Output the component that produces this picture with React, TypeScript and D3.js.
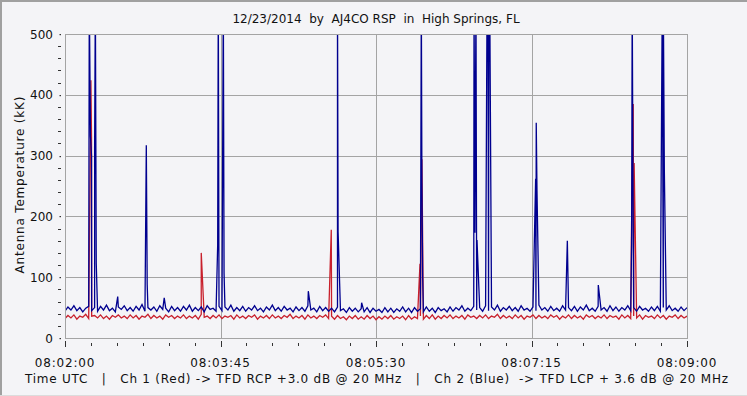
import React, { useEffect, useRef } from 'react';
import * as d3 from 'd3';

// seconds after 08:02:00 UTC, baseline sampled every 2 s
const sampleStep = 2
const blueBase = [
  44,51,46,53,45,50,43,49,52,45, 50,44,52,46,54,45,49,43,51,47,
  53,45,50,44,52,46,55,44,50,46, 51,44,53,47,49,43,52,45,50,44,
  52,46,54,44,50,45,51,43,53,47, 49,44,52,45,51,46,54,44,50,45,
  52,44,50,46,53,45,49,43,51,46, 54,45,50,44,52,46,49,43,51,45,
  50,44,53,46,49,43,52,45,50,44, 49,43,51,45,48,42,50,44,49,43,
  48,43,50,42,49,44,47,42,50,43, 49,42,48,44,51,43,49,42,50,44,
  48,43,51,44,49,42,50,45,48,43, 51,44,50,46,53,44,49,45,52,46,
  50,44,53,45,51,46,54,44,50,46, 52,45,50,44,53,46,49,44,51,45,
  54,46,50,44,52,45,49,44,53,46, 50,45,52,44,51,46,54,45,49,44,
  52,46,50,44,53,45,51,44,50,46, 53,45,50,44,52,46,49,44,51,45,
  52,44,50,46,53,45,49,44,51,45, 50
]
const redBase = [
  32,37,33,38,31,36,34,39,32,36, 37,33,38,32,36,31,37,34,38,33,
  36,32,38,33,37,31,36,34,39,32, 37,33,36,31,38,34,37,32,36,33,
  38,32,36,33,37,31,39,34,36,32, 37,33,38,32,36,34,37,31,38,33,
  36,32,37,34,38,31,36,33,37,32, 38,33,36,32,37,34,39,32,36,33,
  37,31,38,33,36,32,37,34,38,32, 36,31,37,32,35,30,36,32,37,31,
  35,31,37,32,36,30,35,31,36,32, 37,31,35,32,36,30,37,31,35,32,
  36,31,37,32,38,31,36,32,37,33, 38,32,36,33,37,31,38,34,36,32,
  37,33,38,32,36,34,39,32,37,33, 36,32,38,33,37,31,36,34,38,32,
  37,33,36,32,38,34,37,31,36,33, 38,32,37,33,36,31,38,34,37,32,
  36,33,38,32,37,34,36,31,38,33, 37,32,36,33,38,31,37,34,36,32,
  38,33,37,31,36,34,38,32,37,33, 36
]

// bursts (seconds, kK)
const blueSpikeTimes = [16.4, 17.2, 17.9, 20.0, 20.5, 21.1, 35.6, 54.9, 55.5, 67.0, 103.1, 103.5, 106.9, 107.4, 164.3, 184.0, 184.4, 200.3, 240.6, 241.0, 241.5, 276.2, 276.8, 277.5, 278.2, 285.0, 285.6, 286.2, 286.8, 317.8, 318.2, 318.7, 339.2, 360.1, 382.6, 383.0, 383.5, 403.3, 404.0, 404.7]
const blueSpikeValues = [560, 332, 300, 312, 560, 123, 68, 317, 88, 66, 153, 560, 560, 107, 77, 560, 175, 58, 560, 255, 101, 560, 173, 560, 161, 560, 560, 560, 560, 262, 354, 243, 160, 87, 156, 560, 262, 560, 560, 275]
const redSpikeTimes = [17.5, 17.9, 92.0, 179.8, 239.7, 241.0, 382.4, 383.7, 384.3]
const redSpikeValues = [424, 330, 140, 178, 122, 294, 156, 385, 288]

const yTicks = [0, 100, 200, 300, 400, 500]
const xTickLabels = ['08:02:00', '08:03:45', '08:05:30', '08:07:15', '08:09:00']
const xTickSeconds = [0, 105, 210, 315, 420]

const title = '12/23/2014  by  AJ4CO RSP  in  High Springs, FL'
const yTitle = 'Antenna Temperature (kK)'
const footer = 'Time UTC   |   Ch 1 (Red) -> TFD RCP +3.0 dB @ 20 MHz   |   Ch 2 (Blue)  -> TFD LCP + 3.6 dB @ 20 MHz'

function series(base: number[], times: number[], values: number[]) {
  const pts = base.map((v, i) => ({ t: i * sampleStep, v }))
  times.forEach((t, i) => pts.push({ t, v: values[i] }))
  return pts.sort((a, b) => a.t - b.t)
}

export default function App() {
  const ref = useRef<SVGSVGElement>(null)
  const width = 747
  const height = 396
  const plot = { left: 65, right: 687, top: 34, bottom: 338 }
  const font = 'DejaVu Sans, Verdana, sans-serif'

  useEffect(() => {
    const svg = d3.select(ref.current)
    svg.selectAll('*').remove()

    const x = d3.scaleLinear().domain([0, 420]).range([plot.left, plot.right])
    const y = d3.scaleLinear().domain([0, 500]).range([plot.bottom, plot.top])

    svg.append('rect').attr('width', width).attr('height', height).attr('fill', '#f4f4f7')
    // window frame
    svg.append('rect').attr('x', 0).attr('y', 0).attr('width', width).attr('height', 2).attr('fill', '#a0a0a0')
    svg.append('rect').attr('x', 0).attr('y', 0).attr('width', 2).attr('height', height).attr('fill', '#a0a0a0')
    svg.append('rect').attr('x', 0).attr('y', height - 1).attr('width', width).attr('height', 1).attr('fill', '#dcdcdc')

    svg.append('defs').append('clipPath').attr('id', 'plotclip')
      .append('rect')
      .attr('x', plot.left).attr('y', plot.top)
      .attr('width', plot.right - plot.left).attr('height', plot.bottom - plot.top)

    // grid
    const grid = svg.append('g').attr('stroke', '#a4a4a4').attr('stroke-width', 1).attr('shape-rendering', 'crispEdges')
    grid.selectAll('line.h').data(yTicks.slice(1, -1)).enter().append('line')
      .attr('x1', plot.left).attr('x2', plot.right)
      .attr('y1', d => Math.round(y(d)) + 0.5).attr('y2', d => Math.round(y(d)) + 0.5)
    grid.selectAll('line.v').data(xTickSeconds.slice(1, -1)).enter().append('line')
      .attr('y1', plot.top).attr('y2', plot.bottom)
      .attr('x1', d => Math.round(x(d)) + 0.5).attr('x2', d => Math.round(x(d)) + 0.5)

    // channels
    const line = d3.line<{ t: number, v: number }>().x(d => x(d.t)).y(d => y(d.v))
    const g = svg.append('g').attr('clip-path', 'url(#plotclip)').attr('fill', 'none')
    g.append('path').datum(series(redBase, redSpikeTimes, redSpikeValues))
      .attr('stroke', '#c8202c').attr('stroke-width', 1.3).attr('d', line)
    g.append('path').datum(series(blueBase, blueSpikeTimes, blueSpikeValues))
      .attr('stroke', '#00008f').attr('stroke-width', 1.3).attr('d', line)

    // frame
    svg.append('rect')
      .attr('x', plot.left + 0.5).attr('y', plot.top + 0.5)
      .attr('width', plot.right - plot.left).attr('height', plot.bottom - plot.top)
      .attr('fill', 'none').attr('stroke', '#a4a4a4').attr('shape-rendering', 'crispEdges')

    // y axis ticks
    const yMinor = d3.range(0, 501, 20).filter(v => v % 100 !== 0)
    svg.append('g').selectAll('rect').data(yMinor).enter().append('rect')
      .attr('x', 58).attr('y', d => Math.round(y(d))).attr('width', 3).attr('height', 1).attr('fill', '#333')
    svg.append('g').selectAll('rect').data(yTicks).enter().append('rect')
      .attr('x', 59.5).attr('y', d => Math.round(y(d))).attr('width', 1.5).attr('height', 1.2).attr('fill', '#333')
    svg.append('g').selectAll('text').data(yTicks).enter().append('text')
      .attr('x', 53).attr('y', d => y(d) + 4.5).attr('text-anchor', 'end')
      .attr('font-family', font).attr('font-size', 12).attr('fill', '#111')
      .text(d => d)

    // x axis ticks
    const xMinor = d3.range(0, 421, 17.5)
    svg.append('g').selectAll('rect').data(xMinor).enter().append('rect')
      .attr('x', d => Math.round(x(d))).attr('y', d => xTickSeconds.includes(d) ? 341 : 343)
      .attr('width', 1).attr('height', d => xTickSeconds.includes(d) ? 6 : 3).attr('fill', '#333')
    svg.append('g').selectAll('text').data(xTickLabels).enter().append('text')
      .attr('x', (d, i) => x(xTickSeconds[i])).attr('y', 366.5).attr('text-anchor', 'middle')
      .attr('font-family', font).attr('font-size', 12).attr('letter-spacing', 0.8).attr('fill', '#111')
      .text(d => d)

    svg.append('text')
      .attr('x', 376).attr('y', 23).attr('text-anchor', 'middle')
      .attr('font-family', font).attr('font-size', 12).attr('fill', '#111')
      .style('white-space', 'pre')
      .text(title)

    svg.append('text')
      .attr('transform', 'translate(24,185) rotate(-90)').attr('text-anchor', 'middle')
      .attr('font-family', font).attr('font-size', 12).attr('fill', '#111')
      .attr('textLength', 177).attr('lengthAdjust', 'spacing')
      .text(yTitle)

    svg.append('text')
      .attr('x', 25).attr('y', 383)
      .attr('font-family', font).attr('font-size', 12).attr('fill', '#111')
      .attr('textLength', 703).attr('lengthAdjust', 'spacing')
      .style('white-space', 'pre')
      .text(footer)
  }, [])

  return (
    <svg ref={ref} width={width} height={height} style={{ position: 'absolute', left: 0, top: 0 }} />
  )
}
